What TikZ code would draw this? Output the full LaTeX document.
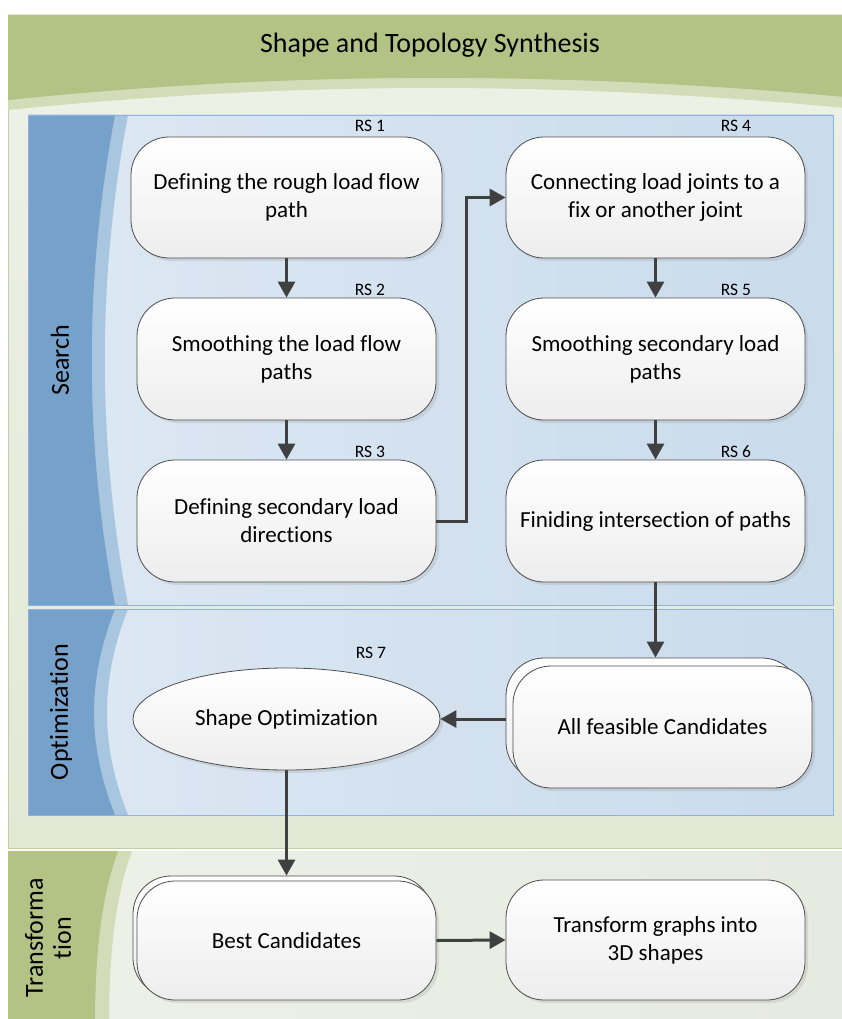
\documentclass[tikz,border=0pt]{standalone}
\usepackage{fontspec}
\setmainfont{Carlito}[Ligatures={NoCommon}]
\usetikzlibrary{shapes.geometric,shadows,arrows.meta}
\definecolor{headgreen}{HTML}{B3C386}
\definecolor{headlight}{HTML}{D3DCB9}
\definecolor{palebg}{HTML}{EEF1E7}
\definecolor{outerbg}{HTML}{E3E8D5}
\definecolor{outerline}{HTML}{C3CDA6}
\definecolor{lanedark}{HTML}{76A1CA}
\definecolor{lanemid}{HTML}{A9C6E0}
\definecolor{lanel}{HTML}{DDE8F3}
\definecolor{laner}{HTML}{CADBEC}
\definecolor{laneline}{HTML}{8EB3DB}
\definecolor{arrowc}{HTML}{404040}
\definecolor{boxline}{HTML}{4D4D4D}
\begin{document}
\begin{tikzpicture}[x=1pt,y=-1pt,
  boxtxt/.style={align=center,font=\fontsize{23}{28}\selectfont},
  rbox/.style={draw=boxline,line width=0.8pt,rounded corners=38pt,top color=white,bottom color=black!7,
    drop shadow={shadow xshift=3pt,shadow yshift=-3pt,opacity=0.18},boxtxt},
  ebox/.style={ellipse,draw=boxline,line width=0.8pt,top color=white,bottom color=black!7,
    drop shadow={shadow xshift=3pt,shadow yshift=-3pt,opacity=0.18},boxtxt,inner sep=0pt},
  rslabel/.style={font=\fontsize{17.5}{20}\selectfont},
  lanelabel/.style={rotate=90,align=center,font=\fontsize{26}{28}\selectfont},
  arr/.style={draw=arrowc,line width=3pt,-{Triangle[length=16pt,width=17pt]}}
]
\useasboundingbox (0,0) rectangle (841,1019);
\fill[white] (0,0) rectangle (841,1019);
% outer container
\shade[top color=palebg,bottom color=outerbg,draw=outerline,line width=0.8pt] (8,15) rectangle (845,848);
\fill[headlight] (8,15) -- (845,15) -- (845,108) .. controls (560,81) and (290,81) .. (8,110) -- cycle;
\fill[headgreen] (8,15) -- (845,15) -- (845,97) .. controls (560,71) and (290,71) .. (8,100) -- cycle;
\node[font=\fontsize{28}{32}\selectfont] (title) at (430,45) {Shape and Topology Synthesis};
% Search lane
\shade[left color=lanel,right color=laner] (28,115) rectangle (833,605);
\fill[lanemid] (28,115) -- (128,115) .. controls (97,280) and (97,440) .. (128,605) -- (28,605) -- cycle;
\fill[lanedark] (28,115) -- (115,115) .. controls (84,280) and (84,440) .. (115,605) -- (28,605) -- cycle;
\draw[laneline,line width=0.8pt] (28,115) rectangle (833,605);
\node[lanelabel] (lsearch) at (60,360) {Search};
% Optimization lane
\shade[left color=lanel,right color=laner] (28,609) rectangle (833,815);
\fill[lanemid] (28,609) -- (128,609) .. controls (100,680) and (100,745) .. (128,815) -- (28,815) -- cycle;
\fill[lanedark] (28,609) -- (115,609) .. controls (87,680) and (87,745) .. (115,815) -- (28,815) -- cycle;
\draw[laneline,line width=0.8pt] (28,609) rectangle (833,815);
\node[lanelabel] (lopt) at (61,712) {Optimization};
% Transformation lane
\shade[left color=palebg,right color=black!3!palebg] (8,851) rectangle (845,1025);
\fill[headlight] (8,851) -- (132,851) .. controls (114,900) and (109,960) .. (109,1025) -- (8,1025) -- cycle;
\fill[headgreen] (8,851) -- (118,851) .. controls (100,900) and (95,960) .. (95,1025) -- (8,1025) -- cycle;
\node[lanelabel] (ltrans) at (48,938) {Transforma\\tion};
% Nodes
\node[rbox,minimum width=311pt,minimum height=121pt] (rs1) at (286.5,197.5) {Defining the rough load flow\\path};
\node[rbox,minimum width=299pt,minimum height=122pt] (rs2) at (286.5,359) {Smoothing the load flow\\paths};
\node[rbox,minimum width=299pt,minimum height=122pt] (rs3) at (286.5,521) {Defining secondary load\\directions};
\node[rbox,minimum width=299pt,minimum height=121pt] (rs4) at (655.5,197.5) {Connecting load joints to a\\fix or another joint};
\node[rbox,minimum width=299pt,minimum height=122pt] (rs5) at (655.5,359) {Smoothing secondary load\\paths};
\node[rbox,minimum width=299pt,minimum height=122pt] (rs6) at (655.5,521) {Finiding intersection of paths};
\node[rslabel] (l1) at (370,126) {RS 1};
\node[rslabel] (l2) at (370,290) {RS 2};
\node[rslabel] (l3) at (370,452) {RS 3};
\node[rslabel] (l4) at (736,126) {RS 4};
\node[rslabel] (l5) at (736,290) {RS 5};
\node[rslabel] (l6) at (736,452) {RS 6};
\node[rslabel] (l7) at (371,653) {RS 7};
\node[rbox,minimum width=294pt,minimum height=122pt] (afb) at (653,719) {};
\node[rbox,minimum width=299pt,minimum height=122pt] (af) at (662.5,727) {All feasible Candidates};
\node[ebox,minimum width=307pt,minimum height=102pt] (so) at (286.5,719) {Shape Optimization};
\node[rbox,minimum width=299pt,minimum height=120pt] (bcb) at (282.5,936) {};
\node[rbox,minimum width=299pt,minimum height=119pt] (bc) at (286.5,940.5) {Best Candidates};
\node[rbox,minimum width=299pt,minimum height=120pt] (tr) at (655.5,940) {Transform graphs into\\3D shapes};
% Connectors
\draw[arr] (rs1) -- (rs2);
\draw[arr] (rs2) -- (rs3);
\draw[arr] (rs3.east) -- ++(30,0) |- (rs4.west);
\draw[arr] (rs4) -- (rs5);
\draw[arr] (rs5) -- (rs6);
\draw[arr] (rs6.south) -- (rs6.south |- afb.north);
\draw[arr] (afb.west) -- (so.east);
\draw[arr] (so.south) -- (so.south |- bcb.north);
\draw[arr] (bc.east) -- (tr.west);
\end{tikzpicture}
\end{document}
